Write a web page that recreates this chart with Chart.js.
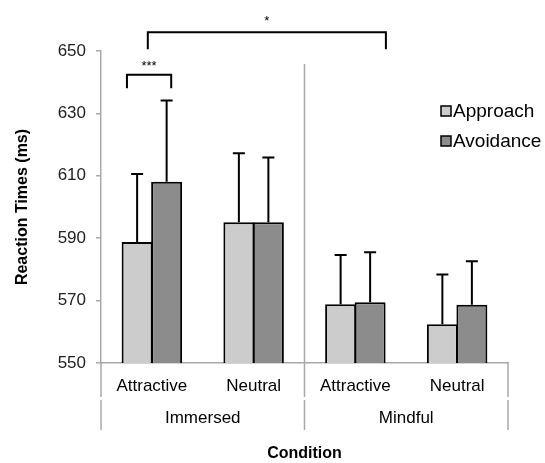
<!DOCTYPE html>
<html>
<head>
<meta charset="utf-8">
<script src="https://cdn.jsdelivr.net/npm/chart.js@4"></script>
<style>
  body { margin: 0; background: #fff; }
  #wrap { width: 545px; height: 463px; position: relative; }
</style>
</head>
<body>
<div id="wrap"><canvas id="grafico"></canvas></div>
<script>
// valores
const categorias = ['Attractive', 'Neutral', 'Attractive', 'Neutral'];
const grupos = ['Immersed', 'Mindful'];
const approach = [588.8, 595.1, 568.8, 562.4];
const avoidance = [608.1, 595.1, 569.5, 568.7];
// erro padrão (só a barra de cima aparece)
const approachErro = [21.8, 22.1, 15.8, 16.0];
const avoidanceErro = [26.0, 20.8, 16.0, 13.9];
const yTicks = [550, 570, 590, 610, 630, 650];

const fonte = "'Liberation Sans', Arial, sans-serif";
const cinzaEixo = '#a9a9a9';

// barras de erro
const errorBars = {
  id: 'errorBars',
  afterDatasetsDraw(chart) {
    const ctx = chart.ctx;
    const y = chart.scales.y;
    const erros = [approachErro, avoidanceErro];
    ctx.save();
    ctx.strokeStyle = '#000';
    ctx.lineWidth = 2;
    chart.data.datasets.forEach((ds, i) => {
      chart.getDatasetMeta(i).data.forEach((bar, j) => {
        const topo = y.getPixelForValue(ds.data[j] + erros[i][j]);
        ctx.beginPath();
        ctx.moveTo(bar.x, bar.y);
        ctx.lineTo(bar.x, topo);
        ctx.moveTo(bar.x - 6, topo);
        ctx.lineTo(bar.x + 6, topo);
        ctx.stroke();
      });
    });
    ctx.restore();
  }
};

// chaves de significância, linhas separadoras e legenda
const extras = {
  id: 'extras',
  afterDraw(chart) {
    const ctx = chart.ctx;
    const x = chart.scales.x;
    const y = chart.scales.y;
    const cw = x.getPixelForValue(1) - x.getPixelForValue(0);
    const area = chart.chartArea;
    ctx.save();

    // separadores cinza
    const meio = (x.getPixelForValue(1) + x.getPixelForValue(2)) / 2;
    ctx.strokeStyle = cinzaEixo;
    ctx.lineWidth = 1.5;
    const fundo = area.bottom + 67;
    const corte = area.bottom + 34;
    [area.left, meio, area.right].forEach((px, k) => {
      ctx.beginPath();
      ctx.moveTo(px, k === 1 ? y.getPixelForValue(645.8) : area.bottom);
      ctx.lineTo(px, corte);
      ctx.moveTo(px, corte + 3);
      ctx.lineTo(px, fundo);
      ctx.stroke();
    });

    // chaves
    ctx.strokeStyle = '#000';
    ctx.lineWidth = 2;
    function chave(x1, x2, yTopo, yPe, texto, yTexto, tam) {
      ctx.beginPath();
      ctx.moveTo(x1, yPe);
      ctx.lineTo(x1, yTopo);
      ctx.lineTo(x2, yTopo);
      ctx.lineTo(x2, yPe);
      ctx.stroke();
      ctx.fillStyle = '#000';
      ctx.font = tam + 'px ' + fonte;
      ctx.textAlign = 'center';
      ctx.textBaseline = 'middle';
      ctx.fillText(texto, (x1 + x2) / 2, yTexto);
    }
    chave(x.getPixelForValue(0) - 0.245 * cw, x.getPixelForValue(0) + 0.19 * cw,
      y.getPixelForValue(642.4), y.getPixelForValue(638.1), '***', y.getPixelForValue(645.0), 13);
    chave(x.getPixelForValue(0) - 0.04 * cw, x.getPixelForValue(2) + 0.30 * cw,
      y.getPixelForValue(656.0), y.getPixelForValue(650.6), '*', y.getPixelForValue(659.5), 13);

    // legenda
    ctx.font = '19px ' + fonte;
    ctx.textAlign = 'left';
    ctx.textBaseline = 'middle';
    chart.data.datasets.forEach((ds, i) => {
      const ly = 111 + i * 30;
      ctx.fillStyle = ds.backgroundColor;
      ctx.fillRect(441, ly - 5, 10, 10);
      ctx.strokeStyle = '#000';
      ctx.lineWidth = 1.5;
      ctx.strokeRect(441, ly - 5, 10, 10);
      ctx.fillStyle = '#000';
      ctx.fillText(ds.label, 453, ly + 1);
    });
    ctx.restore();
  }
};

new Chart(document.querySelector('#grafico').getContext('2d'), {
  type: 'bar',
  data: {
    labels: categorias,
    datasets: [
      {
        label: 'Approach',
        data: approach,
        backgroundColor: '#cccccc',
        borderColor: '#000',
        borderWidth: 2,
        categoryPercentage: 0.58,
        barPercentage: 1.05
      },
      {
        label: 'Avoidance',
        data: avoidance,
        backgroundColor: '#8c8c8c',
        borderColor: '#000',
        borderWidth: 2,
        categoryPercentage: 0.58,
        barPercentage: 1.05
      }
    ]
  },
  options: {
    responsive: true,
    maintainAspectRatio: false,
    animation: false,
    layout: { padding: { top: 51, right: 37, left: 0, bottom: 0 } },
    plugins: {
      legend: { display: false },
      tooltip: { enabled: false }
    },
    scales: {
      x: {
        type: 'category',
        position: 'bottom',
        weight: 0,
        grid: { display: false, drawTicks: false },
        border: { color: cinzaEixo, width: 1.5 },
        ticks: { color: '#000', font: { family: fonte, size: 17 }, padding: 13, maxRotation: 0 },
        afterFit(s) { s.height = 35; }
      },
      x2: {
        type: 'category',
        position: 'bottom',
        weight: 1,
        labels: grupos,
        grid: { display: false, drawTicks: false },
        border: { display: false },
        ticks: { color: '#000', font: { family: fonte, size: 17 }, padding: 10, maxRotation: 0 },
        title: {
          display: true,
          text: 'Condition',
          color: '#000',
          font: { family: fonte, size: 16, weight: 'bold' },
          padding: { top: 0, bottom: 0 }
        },
        afterFit(s) { s.height = 65; }
      },
      y: {
        min: 550,
        max: 650,
        afterBuildTicks(s) { s.ticks = yTicks.map(v => ({ value: v })); },
        grid: { drawOnChartArea: false, drawTicks: true, tickLength: 5, color: cinzaEixo, lineWidth: 1.5 },
        border: { color: cinzaEixo, width: 1.5 },
        ticks: { color: '#222', font: { family: fonte, size: 17 }, padding: 10 },
        title: {
          display: true,
          text: 'Reaction Times (ms)',
          color: '#000',
          font: { family: fonte, size: 16, weight: 'bold' },
          padding: { top: 13, bottom: 0 }
        },
        afterFit(s) { s.width = 101; }
      }
    }
  },
  plugins: [errorBars, extras]
});
</script>
</body>
</html>
